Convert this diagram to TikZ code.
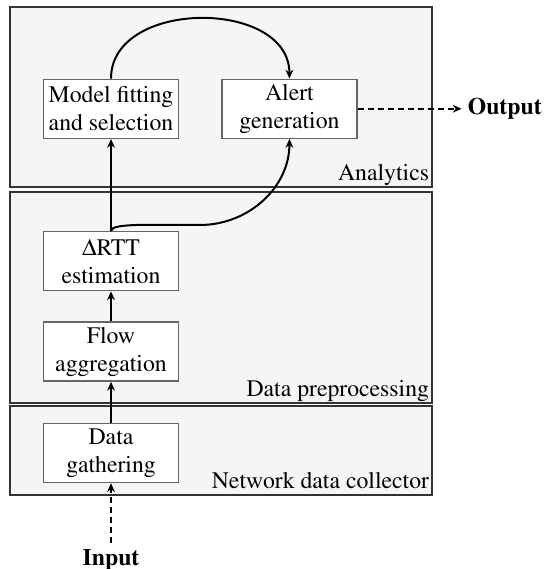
\documentclass[tikz,border=0pt]{standalone}
\usepackage[T1]{fontenc}
\usepackage{mathptmx}
\usetikzlibrary{arrows.meta,positioning}

\begin{document}
\begin{tikzpicture}[
    font=\fontsize{13.5}{16}\selectfont,
    panel/.style={draw=black!80, fill=black!4, line width=0.6pt},
    panellabel/.style={anchor=south east, inner sep=1.5pt, text depth=0.22em},
    stage/.style={
        draw=black!60,
        fill=white,
        line width=0.8pt,
        align=center,
        minimum width=2.7cm,
        minimum height=1.18cm,
        inner sep=0pt
    },
    iolabel/.style={font=\fontsize{13.5}{16}\selectfont\bfseries},
    pipe/.style={-{Stealth[length=5pt,width=4.4pt]}, line width=1.13pt},
    iopipe/.style={pipe, dash pattern=on 3.4pt off 2.3pt}
]
\useasboundingbox (0,0) rectangle (11.04,11.38);

% ---------------- Panels ----------------
\draw[panel] (0.2,7.64) rectangle (8.64,11.24);
\draw[panel] (0.2,3.32) rectangle (8.64,7.54);
\draw[panel] (0.2,1.48) rectangle (8.64,3.26);
\node[panellabel] (lblana) at (8.64,7.64) {Analytics};
\node[panellabel] (lblpre) at (8.64,3.32) {Data preprocessing};
\node[panellabel] (lblcol) at (8.64,1.48) {Network data collector};

% ---------------- Stages ----------------
\node[stage] (gather) at (2.22,2.32) {Data\\gathering};
\node[stage, above=0.82cm of gather] (aggr) {Flow\\aggregation};
\node[stage, above=0.6cm of aggr] (rtt) {$\Delta$RTT\\estimation};
\node[stage, above=1.84cm of rtt] (model) {Model fitting\\and selection};
\node[stage, right=0.84cm of model] (alert) {Alert\\generation};

% ---------------- Input / output ----------------
\node[iolabel, below=1.2cm of gather] (in) {Input};
\node[iolabel, right=2.08cm of alert] (out) {Output};

% ---------------- Connectors ----------------
\draw[pipe] (gather) -- (aggr);
\draw[pipe] (aggr) -- (rtt);
\draw[pipe] (rtt) -- (model);
\draw[pipe] (model.north) to[out=90,in=90,looseness=1.15] (alert.north);
\coordinate (bend) at (4.0,6.88);
\draw[pipe] (rtt.north) .. controls +(0,0.16) and +(-1.0,0) .. (bend)
    to[out=0,in=-90] (alert.south);
\draw[iopipe] (in) -- (gather);
\draw[iopipe] (alert) -- (out);

\end{tikzpicture}
\end{document}
